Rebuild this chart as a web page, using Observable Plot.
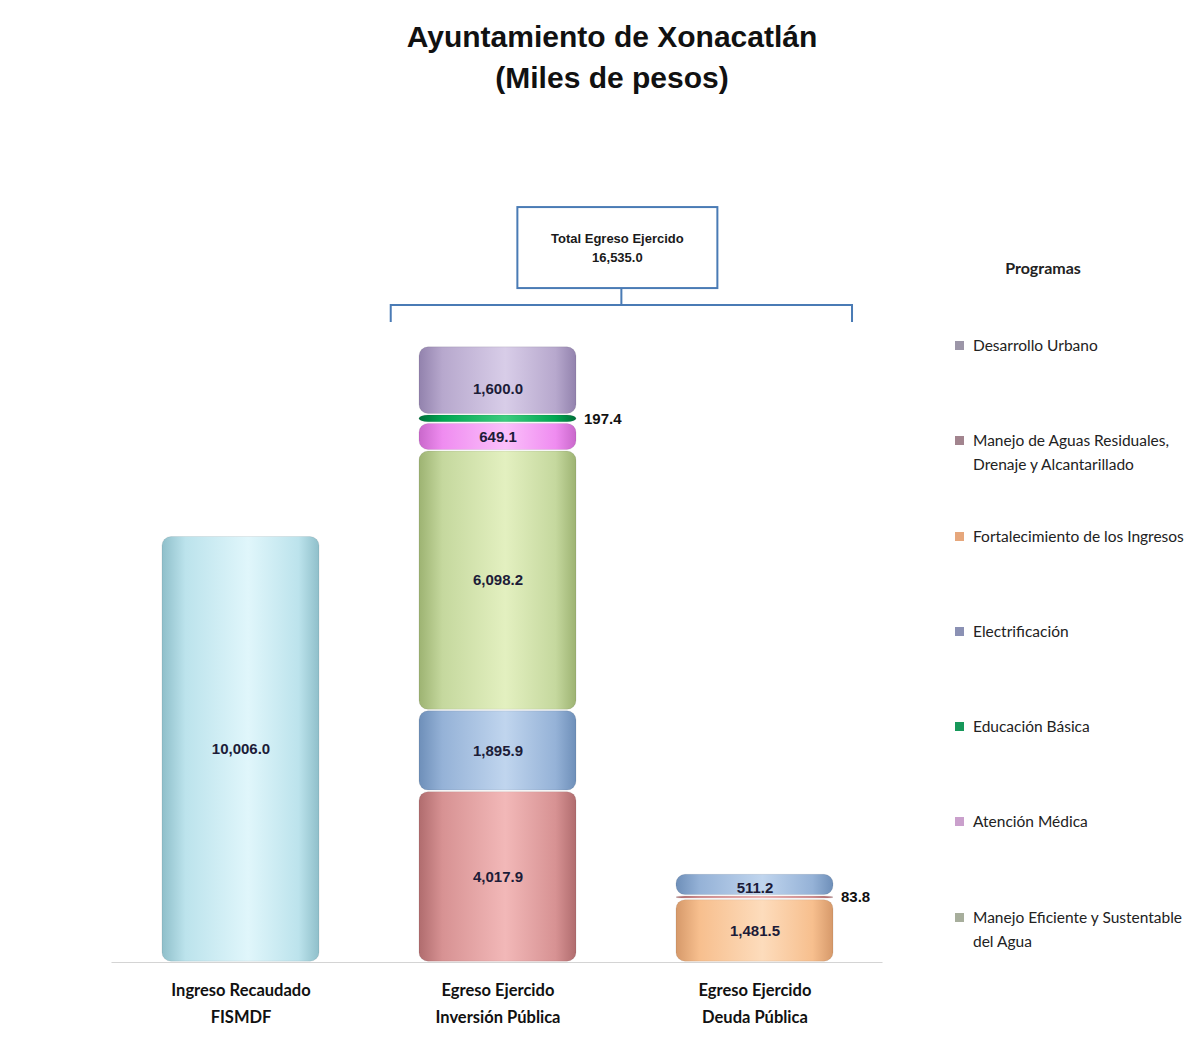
<!DOCTYPE html>
<html>
<head>
<meta charset="utf-8">
<script src="https://cdn.jsdelivr.net/npm/d3@7"></script>
<script src="https://cdn.jsdelivr.net/npm/@observablehq/plot@0.6"></script>
<style>
  html, body { margin: 0; padding: 0; background: #fff; }
  body { width: 1203px; height: 1057px; position: relative; overflow: hidden; }
  #title { position: absolute; top: 16px; left: 22px; width: 1180px; text-align: center;
    font-family: "Liberation Sans", Arial, sans-serif; font-weight: bold; font-size: 30px;
    line-height: 41px; color: #111; }
  #chart { position: absolute; top: 110px; left: 0; }
  #legend { position: absolute; left: 955px; top: 257px; width: 246px;
    font-family: Lato, "Open Sans", sans-serif; font-size: 15.5px; color: #222; }
  #legend .head { font-weight: bold; text-align: center; width: 176px; line-height: 22px; height: 76px; font-size: 16px; }
  #legend .item { height: 95.3px; display: flex; align-items: flex-start; line-height: 24px; }
  #legend .sw { width: 9px; height: 9px; margin-top: 8px; margin-right: 9px; flex: none; }
  #legend .lab { width: 220px; }
</style>
</head>
<body>
<svg width="0" height="0" style="position:absolute"><defs id="defs"></defs></svg>
<div id="title">Ayuntamiento de Xonacatlán<br>(Miles de pesos)</div>
<div id="chart"></div>
<div id="legend"></div>
<script>
// ---------------- data ----------------
const categories = [
  "Ingreso Recaudado FISMDF",
  "Egreso Ejercido Inversión Pública",
  "Egreso Ejercido Deuda Pública"
];
const categoryLine1 = ["Ingreso Recaudado", "Egreso Ejercido", "Egreso Ejercido"];
const categoryLine2 = ["FISMDF", "Inversión Pública", "Deuda Pública"];

const programs = [
  "Desarrollo Urbano",
  "Manejo de Aguas Residuales, Drenaje y Alcantarillado",
  "Fortalecimiento de los Ingresos",
  "Electrificación",
  "Educación Básica",
  "Atención Médica",
  "Manejo Eficiente y Sustentable del Agua"
];
const legendLines = [
  ["Desarrollo Urbano"],
  ["Manejo de Aguas Residuales,", "Drenaje y Alcantarillado"],
  ["Fortalecimiento de los Ingresos"],
  ["Electrificación"],
  ["Educación Básica"],
  ["Atención Médica"],
  ["Manejo Eficiente y Sustentable", "del Agua"]
];

const ingresoPrograms = ["Ingreso"];
const ingresoValues = [10006.0];

const inversionPrograms = [
  "Manejo de Aguas Residuales, Drenaje y Alcantarillado",
  "Electrificación",
  "Manejo Eficiente y Sustentable del Agua",
  "Atención Médica",
  "Educación Básica",
  "Desarrollo Urbano"
];
const inversionValues = [4017.9, 1895.9, 6098.2, 649.1, 197.4, 1600.0];

const deudaPrograms = [
  "Fortalecimiento de los Ingresos",
  "Manejo de Aguas Residuales, Drenaje y Alcantarillado",
  "Electrificación"
];
const deudaValues = [1481.5, 83.8, 511.2];

const totalLabel = "Total Egreso Ejercido";

// ---------------- styles ----------------
const seriesKeys = ["Ingreso", ...programs];
// [edge, mid, highlight]
const seriesGradients = [
  ["#8fbfca", "#bce3ec", "#e0f6fb"],   // Ingreso
  ["#9282ad", "#b7a8cd", "#d8cde8"],   // Desarrollo Urbano
  ["#b06c6e", "#d79293", "#f2b8b8"],   // Manejo Aguas Residuales
  ["#d6996a", "#f7bf8e", "#fddcbc"],   // Fortalecimiento
  ["#6e8fb9", "#95b2d7", "#c0d5ee"],   // Electrificación
  ["#00703a", "#00a651", "#3ccb7e"],   // Educación Básica
  ["#c968cb", "#ef8cf0", "#fbc0fb"],   // Atención Médica
  ["#9db372", "#c5d89e", "#e3f0c0"]    // Manejo Eficiente
];
const legendSwatches = ["#9c96a8", "#a2848e", "#e6a77c", "#8b91b4", "#17985a", "#caa0cc", "#a7ae9c"];

const gid = k => "g" + seriesKeys.indexOf(k);

// gradients
const defs = d3.select("#defs");
seriesKeys.forEach((k, i) => {
  const [e, m, h] = seriesGradients[i];
  const g = defs.append("linearGradient").attr("id", gid(k)).attr("x1", 0).attr("x2", 1).attr("y1", 0).attr("y2", 0);
  [[0, e], [0.15, m], [0.55, h], [0.87, m], [1, e]].forEach(([o, c]) =>
    g.append("stop").attr("offset", o).attr("stop-color", c));
});

// ---------------- table ----------------
const segments = [];
ingresoValues.forEach((v, i) => segments.push({cat: categories[0], program: ingresoPrograms[i], value: v}));
inversionValues.forEach((v, i) => segments.push({cat: categories[1], program: inversionPrograms[i], value: v}));
deudaValues.forEach((v, i) => segments.push({cat: categories[2], program: deudaPrograms[i], value: v}));

const fmt = d3.format(",.1f");
const small = d => d.value < 300;
const totalEgreso = d3.sum(inversionValues) + d3.sum(deudaValues);
const stackTops = categories.map(c => d3.sum(segments.filter(s => s.cat === c), s => s.value));

const labelFont = '"Liberation Sans Narrow", "Arial Narrow", "Liberation Sans", sans-serif';

const chart = Plot.plot({
  width: 1203,
  height: 947,
  marginLeft: 111.5,
  marginRight: 320.5,
  marginTop: 0,
  marginBottom: 95,
  x: {domain: categories, paddingInner: 0.39, paddingOuter: 0.195, axis: null},
  y: {domain: [0, 20000], axis: null},
  color: {type: "identity"},
  marks: [
    Plot.ruleY([0], {stroke: "#d4d4d4", strokeWidth: 1.2}),
    Plot.barY(segments, Plot.stackY({
      x: "cat", y: "value", fill: d => `url(#${gid(d.program)})`,
      stroke: "#000", strokeOpacity: 0.08,
      rx: 9, insetTop: 0.8, insetBottom: 0.8
    })),
    Plot.text(segments.filter(d => !small(d)), Plot.stackY({
      x: "cat", y: "value", text: d => fmt(d.value),
      fontFamily: labelFont, fontWeight: "bold", fontSize: 15, fill: "#1c1c38"
    })),
    Plot.text(segments, Plot.stackY({
      x: "cat", y: "value", text: d => small(d) ? fmt(d.value) : "",
      textAnchor: "start", dx: 86,
      fontFamily: labelFont, fontWeight: "bold", fontSize: 15, fill: "#111"
    })),
    Plot.text(categories, {x: d => d, y: () => 0, text: (d, i) => categoryLine1[i], dy: 28,
      fontFamily: "Lato, 'Open Sans', sans-serif", fontWeight: "bold", fontSize: 16.5, fill: "#111"}),
    Plot.text(categories, {x: d => d, y: () => 0, text: (d, i) => categoryLine2[i], dy: 55,
      fontFamily: "Lato, 'Open Sans', sans-serif", fontWeight: "bold", fontSize: 16.5, fill: "#111"})
  ]
});
document.getElementById("chart").appendChild(chart);

// ---------------- annotation (bracket + total box), positioned from scales ----------------
const xs = chart.scale("x"), ys = chart.scale("y");
const svg = d3.select(chart);
const step = xs.step ?? (xs.bandwidth / (1 - 0.39));
const bx1 = xs.apply(categories[1]) - step * 0.11;
const bx2 = xs.apply(categories[2]) + xs.bandwidth + step * 0.074;
const by = ys.apply(d3.max(stackTops)) - 41;
const cx = (bx1 + bx2) / 2;
const boxW = 200, boxH = 81;
const boxBottom = by - 17, boxTop = boxBottom - boxH;
const stroke = "#4a7bb5";
const ann = svg.append("g").attr("fill", "none").attr("stroke", stroke).attr("stroke-width", 2);
ann.append("path").attr("d",
  `M${bx1},${by + 17}V${by}H${bx2}V${by + 17}M${cx},${by}V${boxBottom}`);
ann.append("rect").attr("x", cx - boxW / 2 - 4).attr("y", boxTop).attr("width", boxW).attr("height", boxH).attr("fill", "#fff");
const tg = svg.append("g").attr("text-anchor", "middle").attr("font-family", labelFont)
  .attr("font-weight", "bold").attr("font-size", 13).attr("fill", "#1a1a1a");
tg.append("text").attr("x", cx - 4).attr("y", boxTop + 31).attr("dy", "0.35em").text(totalLabel);
tg.append("text").attr("x", cx - 4).attr("y", boxTop + 50).attr("dy", "0.35em").text(fmt(totalEgreso));

// ---------------- legend ----------------
const legend = d3.select("#legend");
legend.append("div").attr("class", "head").text("Programas");
programs.forEach((p, i) => {
  const it = legend.append("div").attr("class", "item");
  it.append("div").attr("class", "sw").style("background", legendSwatches[i]);
  it.append("div").attr("class", "lab").html(legendLines[i].join("<br>"));
});
</script>
</body>
</html>
